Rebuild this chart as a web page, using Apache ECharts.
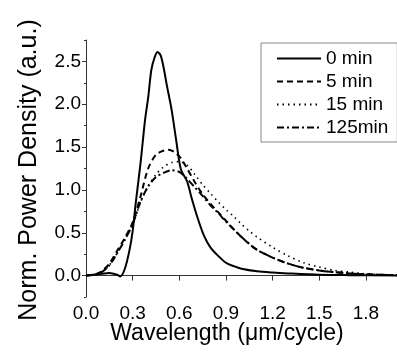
<!DOCTYPE html>
<html>
<head>
<meta charset="utf-8">
<script src="https://cdn.jsdelivr.net/npm/echarts@6/dist/echarts.min.js"></script>
<style>
html,body{margin:0;padding:0;background:#fff;}
#chart{width:397px;height:354px;}
</style>
</head>
<body>
<div id="chart"></div>
<script>
// ---- data ----
var seriesNames = ['0 min', '5 min', '15 min', '125min'];

var wl0 = [0, 0.05, 0.10, 0.15, 0.20, 0.22, 0.25, 0.28, 0.30, 0.32, 0.35, 0.38, 0.40, 0.42, 0.44, 0.46, 0.48, 0.50, 0.52, 0.55, 0.58, 0.61, 0.65, 0.68, 0.72, 0.76, 0.80, 0.85, 0.90, 0.95, 1.00, 1.10, 1.20, 1.30, 1.50, 1.70, 2.00];
var pd0 = [0, 0.01, 0.02, 0.03, 0.01, -0.01, 0.08, 0.30, 0.52, 0.85, 1.30, 1.82, 2.08, 2.40, 2.54, 2.61, 2.57, 2.42, 2.22, 1.94, 1.58, 1.24, 1.10, 0.90, 0.66, 0.46, 0.33, 0.23, 0.15, 0.11, 0.08, 0.05, 0.035, 0.025, 0.01, 0.005, 0];

var wl5 = [0, 0.05, 0.10, 0.15, 0.20, 0.25, 0.30, 0.35, 0.40, 0.45, 0.50, 0.53, 0.57, 0.61, 0.65, 0.70, 0.75, 0.80, 0.85, 0.90, 0.95, 1.00, 1.05, 1.10, 1.20, 1.30, 1.40, 1.50, 1.60, 1.70, 1.80, 1.90, 2.00];
var pd5 = [0, 0.01, 0.05, 0.14, 0.29, 0.44, 0.62, 0.92, 1.25, 1.41, 1.46, 1.47, 1.44, 1.37, 1.25, 1.09, 0.95, 0.84, 0.74, 0.64, 0.54, 0.45, 0.37, 0.30, 0.21, 0.14, 0.09, 0.06, 0.04, 0.025, 0.015, 0.01, 0.005];

var wl15 = [0, 0.05, 0.10, 0.15, 0.20, 0.25, 0.30, 0.35, 0.40, 0.45, 0.50, 0.55, 0.60, 0.65, 0.70, 0.75, 0.80, 0.85, 0.90, 0.95, 1.00, 1.05, 1.10, 1.20, 1.30, 1.40, 1.50, 1.60, 1.70, 1.80, 1.90, 2.00];
var pd15 = [0, 0.01, 0.04, 0.12, 0.26, 0.42, 0.60, 0.85, 1.05, 1.18, 1.27, 1.32, 1.33, 1.29, 1.18, 1.06, 0.96, 0.86, 0.77, 0.69, 0.60, 0.52, 0.45, 0.33, 0.23, 0.15, 0.10, 0.06, 0.04, 0.02, 0.01, 0.005];

var wl125 = [0, 0.05, 0.10, 0.15, 0.20, 0.25, 0.30, 0.35, 0.40, 0.45, 0.50, 0.55, 0.60, 0.65, 0.70, 0.75, 0.80, 0.85, 0.90, 0.95, 1.00, 1.05, 1.10, 1.20, 1.30, 1.40, 1.50, 1.60, 1.70, 1.80, 1.90, 2.00];
var pd125 = [0, 0.01, 0.04, 0.12, 0.26, 0.42, 0.60, 0.86, 1.04, 1.15, 1.20, 1.23, 1.21, 1.13, 1.03, 0.93, 0.82, 0.73, 0.63, 0.54, 0.45, 0.37, 0.30, 0.21, 0.14, 0.09, 0.06, 0.04, 0.025, 0.015, 0.01, 0.005];

var xTicks = [0.0, 0.3, 0.6, 0.9, 1.2, 1.5, 1.8];
var yTicks = [0.0, 0.5, 1.0, 1.5, 2.0, 2.5];
var yMinorTicks = [-0.25, 0.25, 0.75, 1.25, 1.75, 2.25, 2.75];

var xTitle = 'Wavelength (\u03bcm/cycle)';
var yTitle = 'Norm. Power Density (a.u.)';

// ---- chart ----
function pairs(xs, ys) { return xs.map(function (x, i) { return [x, ys[i]]; }); }

var FONT = '"Liberation Sans", Arial, sans-serif';
var AX = '#333';

var styles = [
  { type: 'solid', width: 2 },
  { type: [6, 4], width: 2 },
  { type: [1.5, 4], width: 1.6 },
  { type: [7, 3, 2, 3], width: 2 }
];
var allData = [pairs(wl0, pd0), pairs(wl5, pd5), pairs(wl15, pd15), pairs(wl125, pd125)];

var chart = echarts.init(document.getElementById('chart'), null, { renderer: 'canvas' });
chart.setOption({
  animation: false,
  backgroundColor: '#fff',
  grid: { left: 86, top: 40, width: 316, height: 257, containLabel: false },
  xAxis: {
    type: 'value', min: 0, max: 2.0,
    axisLine: { show: true, lineStyle: { color: AX, width: 1 } },
    axisTick: { show: true, inside: false, length: 5, customValues: xTicks, lineStyle: { color: AX } },
    axisLabel: { customValues: xTicks, margin: 7, color: '#000', fontSize: 19, fontFamily: FONT,
      formatter: function (v) { return v.toFixed(1); } },
    splitLine: { show: false }
  },
  yAxis: [{
    type: 'value', min: -0.25, max: 2.75, position: 'left',
    axisLine: { show: true, onZero: false, lineStyle: { color: AX, width: 1 } },
    axisTick: { show: true, inside: false, length: 4, customValues: yTicks, lineStyle: { color: AX } },
    axisLabel: { customValues: yTicks, margin: 5, color: '#000', fontSize: 19, fontFamily: FONT,
      formatter: function (v) { return v.toFixed(1); } },
    splitLine: { show: false }
  }, {
    type: 'value', min: -0.25, max: 2.75, position: 'left',
    axisLine: { show: false },
    axisTick: { show: true, inside: false, length: 2, customValues: yMinorTicks, lineStyle: { color: AX } },
    axisLabel: { show: false },
    splitLine: { show: false }
  }],
  legend: {
    orient: 'vertical', left: 261, top: 43,
    padding: [6, 9, 5, 15],
    itemWidth: 44, itemHeight: 14, itemGap: 4,
    borderColor: '#888', borderWidth: 1,
    itemStyle: { opacity: 0, borderWidth: 0 },
    textStyle: { color: '#000', fontSize: 19, fontFamily: FONT },
    data: seriesNames
  },
  series: seriesNames.map(function (n, i) {
    return {
      name: n, type: 'line', data: allData[i], yAxisIndex: 0,
      smooth: 0.3, symbol: 'none', showSymbol: false,
      lineStyle: { color: '#000', width: styles[i].width, type: styles[i].type },
      itemStyle: { color: '#000' },
      z: 10 - i
    };
  }),
  graphic: [
    { type: 'text', x: 227, y: 334, style: { text: xTitle, font: '23px ' + FONT, fill: '#000', align: 'center', verticalAlign: 'middle' } },
    { type: 'text', x: 29, y: 170, rotation: Math.PI / 2, style: { text: yTitle, font: '25px ' + FONT, fill: '#000', align: 'center', verticalAlign: 'middle' } }
  ]
});
</script>
</body>
</html>
